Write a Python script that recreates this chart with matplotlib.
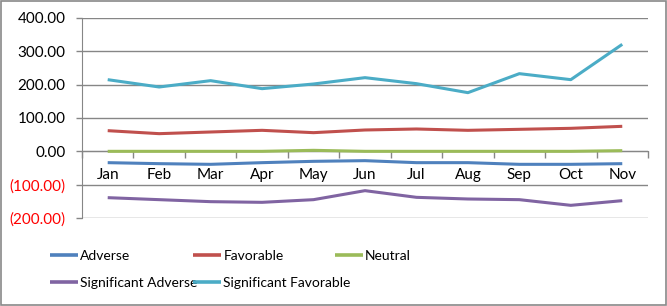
import matplotlib
matplotlib.use("Agg")
import matplotlib.pyplot as plt
from matplotlib.patches import Rectangle
from matplotlib.ticker import FuncFormatter, FixedLocator

months = ["Jan", "Feb", "Mar", "Apr", "May", "Jun", "Jul", "Aug", "Sep", "Oct", "Nov"]

adverse = [-34, -37, -39, -34, -30, -28, -34, -34, -39, -39, -37]
favorable = [62, 53, 58, 63, 56, 64, 67, 63, 66, 69, 75]
neutral = [0, 0, 0, 0, 3, 0, 0, 0, 0, 0, 2]
sig_adverse = [-139, -145, -151, -153, -145, -118, -138, -143, -145, -162, -148]
sig_favorable = [215, 193, 212, 188, 202, 221, 203, 176, 233, 215, 321]

series = [
    ("Adverse", adverse, "#4F81BD"),
    ("Favorable", favorable, "#C0504D"),
    ("Neutral", neutral, "#9BBB59"),
    ("Significant Adverse", sig_adverse, "#8064A2"),
    ("Significant Favorable", sig_favorable, "#4BACC6"),
]

plt.rcParams["font.family"] = ["Lato", "DejaVu Sans"]

fig = plt.figure(figsize=(6.67, 3.06), dpi=100)
fig.patches.append(Rectangle((0.001, 0.002), 0.997, 0.995, transform=fig.transFigure,
                             fill=False, edgecolor="#898989", linewidth=1.2))
ax = fig.add_axes([0.1229, 0.2876, 0.8486, 0.6536])

x = list(range(len(months)))
lines = {}
for name, vals, col in series:
    lines[name], = ax.plot(x, vals, color=col, linewidth=2.2, label=name,
                           solid_capstyle="butt")

ax.set_xlim(-0.5, len(months) - 0.5)
ax.set_ylim(-200, 400)
ax.set_yticks(range(-200, 401, 100))
ax.yaxis.grid(True, color="#868686", linewidth=1.0)
ax.set_axisbelow(True)

def yfmt(v, pos):
    return "%.2f" % v if v >= 0 else "(%.2f)" % abs(v)

ax.yaxis.set_major_formatter(FuncFormatter(yfmt))
ax.tick_params(axis="y", length=4, width=1, color="#868686", pad=8, labelsize=11)
for lab, v in zip(ax.get_yticklabels(), range(-200, 401, 100)):
    lab.set_color("#FF0000" if v < 0 else "#000000")

for s in ["top", "right"]:
    ax.spines[s].set_visible(False)
ax.spines["left"].set_color("#868686")
ax.spines["bottom"].set_position(("data", 0))
ax.spines["bottom"].set_color("#868686")
ax.spines["bottom"].set_zorder(0.5)

ax.set_xticks(x)
ax.set_xticklabels(months)
ax.xaxis.set_minor_locator(FixedLocator([i - 0.5 for i in range(len(months) + 1)]))
ax.tick_params(axis="x", which="major", length=0, pad=12, labelsize=11)
ax.tick_params(axis="x", which="minor", length=5, width=1, color="#868686")

# one legend per column so the columns sit where Excel puts them
columns = [["Adverse", "Significant Adverse"],
           ["Favorable", "Significant Favorable"],
           ["Neutral"]]
col_x = [0.075, 0.29, 0.502]
for names, cx in zip(columns, col_x):
    leg = fig.legend([lines[n] for n in names], names, loc="upper left",
                     bbox_to_anchor=(cx, 0.184), frameon=False, fontsize=10,
                     handlelength=2.0, handletextpad=0.15,
                     labelspacing=1.1, borderaxespad=0, borderpad=0)
    for h in leg.legend_handles:
        h.set_linewidth(2.6)

fig.savefig("out.png", dpi=100)
